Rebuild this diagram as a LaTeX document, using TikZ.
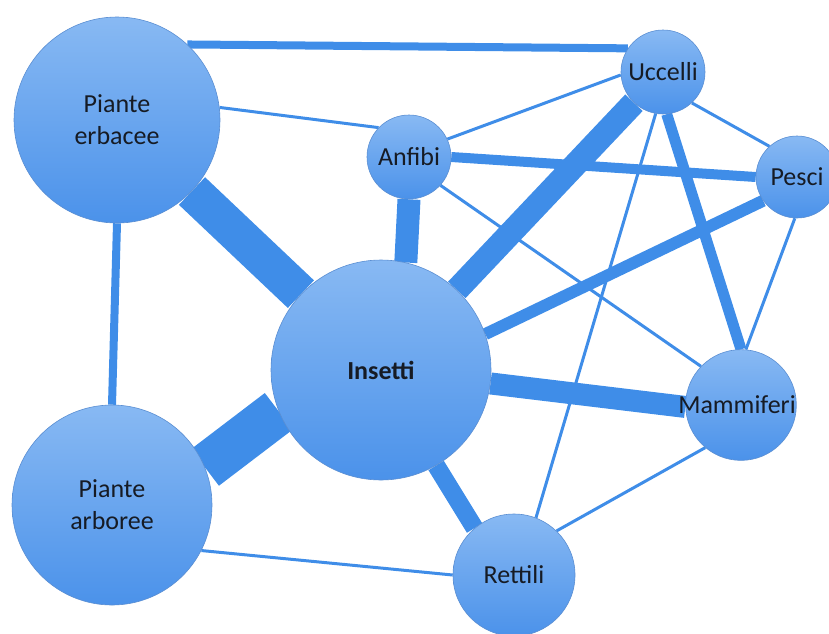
\documentclass[tikz,border=0pt]{standalone}
\usepackage{fontspec}
\setmainfont{Carlito}
\usetikzlibrary{backgrounds}
\definecolor{nodetop}{HTML}{88B9F3}
\definecolor{nodebot}{HTML}{4B92EA}
\definecolor{nodeline}{HTML}{5A8ED2}
\definecolor{edgeblue}{HTML}{3F8DE8}
\definecolor{txt}{HTML}{161B24}

\begin{document}
\begin{tikzpicture}[x=1pt,y=-1pt,n/.style={draw=nodeline,line width=0.6pt,circle,inner sep=0pt,top color=nodetop,bottom color=nodebot,text=txt,align=center},e/.style={draw=edgeblue,line width=#1},e/.default=3pt,every node/.append style={font=\fontsize{26}{32}\selectfont}]
\useasboundingbox (0,0) rectangle (829,633);
% species
\node[n,minimum size=206pt] (pe) at (117,120) {Piante\\erbacee};
\node[n,minimum size=200pt] (pa) at (112,505) {Piante\\arboree};
\node[n,minimum size=220pt] (ins) at (381,370) {\bfseries Insetti};
\node[n,minimum size=84pt] (anf) at (409,157) {Anfibi};
\node[n,minimum size=84pt] (ucc) at (663,72) {Uccelli};
\node[n,minimum size=82pt] (pes) at (797,177) {Pesci};
\node[n,minimum size=80pt] (mam) at (741,405) {\hspace*{-8pt}Mammiferi};
\node[n,minimum size=122pt] (ret) at (514,575) {Rettili};
% links
\begin{scope}[on background layer]
\draw[e=8pt] (pe.47) -- (ucc.146);
\draw[e] (pe.7) -- (anf.136);
\draw[e=8pt] (pe.south) -- (pa.north);
\draw[e=38pt] (pe) -- (ins);
\draw[e=46pt] (pa.22) -- (ins.202);
\draw[e] (pa.333) -- (ret.west);
\draw[e=23pt] (anf.south) -- (ins.77);
\draw[e] (anf.25) -- (ucc.184);
\draw[e=10pt] (anf.east) -- (pes.west);
\draw[e] (anf.318) -- (mam.136);
\draw[e=24pt] (ins) -- (ucc);
\draw[e=12pt] (ins.19) -- (pes.215);
\draw[e=22pt] (ins.353) -- (mam.182);
\draw[e=18pt] (ins.300) -- (ret.130);
\draw[e] (ucc.313) -- (pes.132);
\draw[e=11pt] (ucc.275) -- (mam.north);
\draw[e] (ucc.260) -- (ret.69);
\draw[e] (pes.267) -- (mam.85);
\draw[e] (mam.230) -- (ret.46);
\end{scope}
\end{tikzpicture}
\end{document}
